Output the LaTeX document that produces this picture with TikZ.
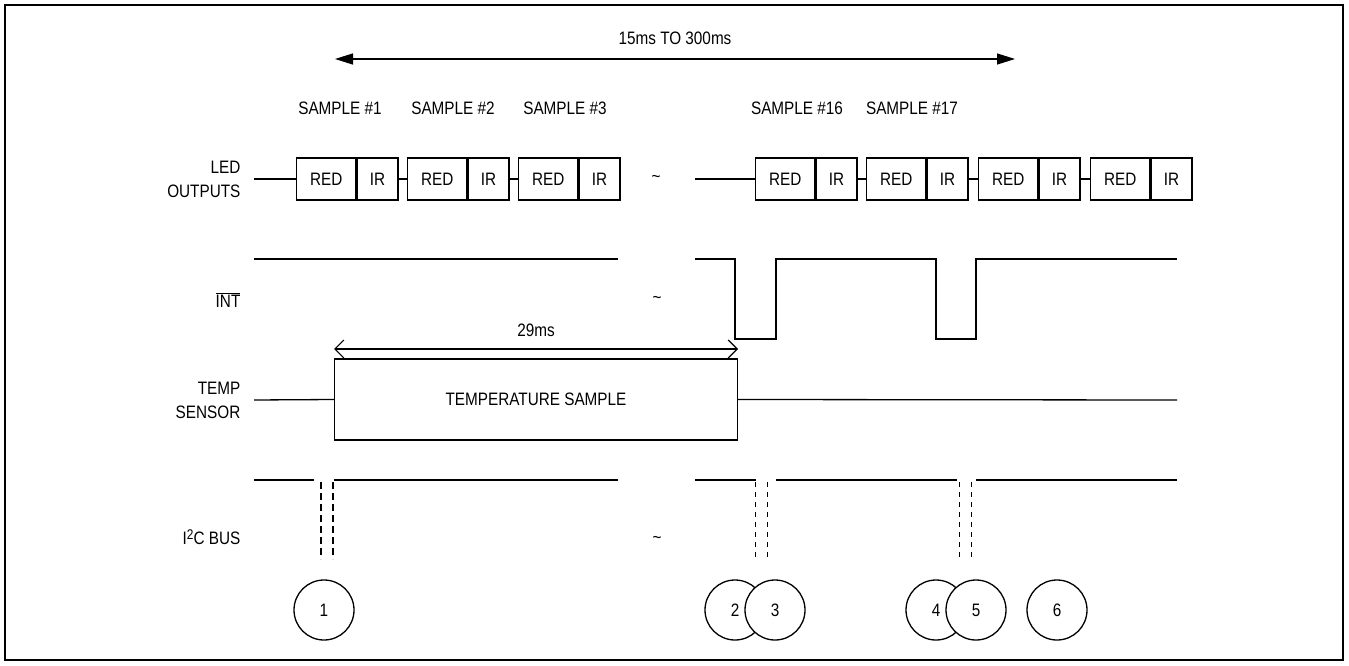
\documentclass[tikz,border=0pt]{standalone}
\usepackage{fontspec}
\setmainfont{Liberation Sans}[FakeStretch=0.85]
\usetikzlibrary{arrows.meta}
\begin{document}
\begin{tikzpicture}[x=1pt,y=-1pt,line width=1.3pt,
  lbl/.style={font=\fontsize{18}{24}\selectfont,inner sep=0pt},
  rowlbl/.style={lbl,align=right,anchor=east},
  redbox/.style={lbl,draw,minimum width=59pt,minimum height=42pt,anchor=west},
  irbox/.style={lbl,draw,minimum width=41pt,minimum height=42pt,anchor=west},
  numcirc/.style={lbl,draw,circle,fill=white,minimum size=60pt},
  bigtip/.style={{Triangle[length=18pt,width=11pt]}-{Triangle[length=18pt,width=11pt]}},
  barbtip/.style={{Straight Barb[length=9pt,width=18pt]}-{Straight Barb[length=9pt,width=18pt]}},
  thickdash/.style={line width=1.8pt,dash pattern=on 7pt off 4pt},
  thindash/.style={line width=1pt,dash pattern=on 5pt off 5pt}]
\useasboundingbox (0,0) rectangle (1349,666);
\draw[line width=1.5pt] (5,5) rectangle (1343,660);

% top span arrow
\coordinate (spanL) at (335,59);
\coordinate (spanR) at (1015,59);
\draw[bigtip] (spanL) -- (spanR);
\node[lbl] (spanlbl) at (675,38) {15ms TO 300ms};

% sample labels
\node[lbl] (s1) at (340,108) {SAMPLE \#1};
\node[lbl] (s2) at (453,108) {SAMPLE \#2};
\node[lbl] (s3) at (565,108) {SAMPLE \#3};
\node[lbl] (s16) at (797,108) {SAMPLE \#16};
\node[lbl] (s17) at (912,108) {SAMPLE \#17};

% row labels
\node[rowlbl] (ledlbl) at (241,179) {LED\\OUTPUTS};
\node[rowlbl] (intlbl) at (241,300) {$\overline{\hbox{INT}}$};
\node[rowlbl] (templbl) at (241,400) {TEMP\\SENSOR};
\node[rowlbl] (i2clbl) at (241,537) {I\raisebox{5.5pt}{\fontsize{14}{14}\selectfont 2}C BUS};

% LED outputs
\coordinate (ledA) at (254,179);
\coordinate (ledB) at (695,179);
\node[redbox] (r1) at (296,179) {RED}; \node[irbox] (i1) at (r1.east) {IR};
\node[redbox] (r2) at (407,179) {RED}; \node[irbox] (i2) at (r2.east) {IR};
\node[redbox] (r3) at (518,179) {RED}; \node[irbox] (i3) at (r3.east) {IR};
\node[redbox] (r4) at (755,179) {RED}; \node[irbox] (i4) at (r4.east) {IR};
\node[redbox] (r5) at (866,179) {RED}; \node[irbox] (i5) at (r5.east) {IR};
\node[redbox] (r6) at (978,179) {RED}; \node[irbox] (i6) at (r6.east) {IR};
\node[redbox] (r7) at (1090,179) {RED}; \node[irbox] (i7) at (r7.east) {IR};
\draw (ledA) -- (r1.west);
\draw (i1.east) -- (r2.west);
\draw (i2.east) -- (r3.west);
\draw (ledB) -- (r4.west);
\draw (i4.east) -- (r5.west);
\draw (i5.east) -- (r6.west);
\draw (i6.east) -- (r7.west);

% tildes
\node[lbl] (t1) at (656,179) {\textasciitilde};
\node[lbl] (t2) at (657,300) {\textasciitilde};
\node[lbl] (t3) at (657,540) {\textasciitilde};

% INT
\draw (254,259) -- (618,259);
\draw (695,259) -| (735,339) -| (776,259) -| (936,339) -| (976,259) -- (1177,259);

% 29ms
\coordinate (m29L) at (334,349);
\coordinate (m29R) at (738,349);
\draw[barbtip,line width=1.2pt] (m29L) -- (m29R);
\node[lbl] (m29) at (536,330) {29ms};

% TEMP sensor
\node[lbl,draw,minimum width=403pt,minimum height=81pt] (tbox) at (536,399.5) {TEMPERATURE SAMPLE};
\coordinate (tempA) at (254,400);
\coordinate (tempB) at (1177,400);
\draw (tempA) -- (tbox.west);
\draw (tbox.east) -- (tempB);

% I2C bus
\draw (254,480) -- (314,480);
\draw (334,480) -- (618,480);
\draw (695,480) -- (756,480);
\draw (776,480) -- (957,480);
\draw (976,480) -- (1177,480);
\draw[thickdash] (321,482) -- (321,559);
\draw[thickdash] (333,482) -- (333,559);
\draw[thindash] (755.5,482) -- (755.5,559);
\draw[thindash] (767.5,482) -- (767.5,559);
\draw[thindash] (959.5,482) -- (959.5,559);
\draw[thindash] (971.5,482) -- (971.5,559);

% numbered circles
\node[numcirc] (c1) at (324,610) {1};
\node[numcirc] (c2) at (735,610) {2};
\node[numcirc] (c3) at (775,610) {3};
\node[numcirc] (c4) at (936,610) {4};
\node[numcirc] (c5) at (976,610) {5};
\node[numcirc] (c6) at (1057,610) {6};
\end{tikzpicture}
\end{document}
